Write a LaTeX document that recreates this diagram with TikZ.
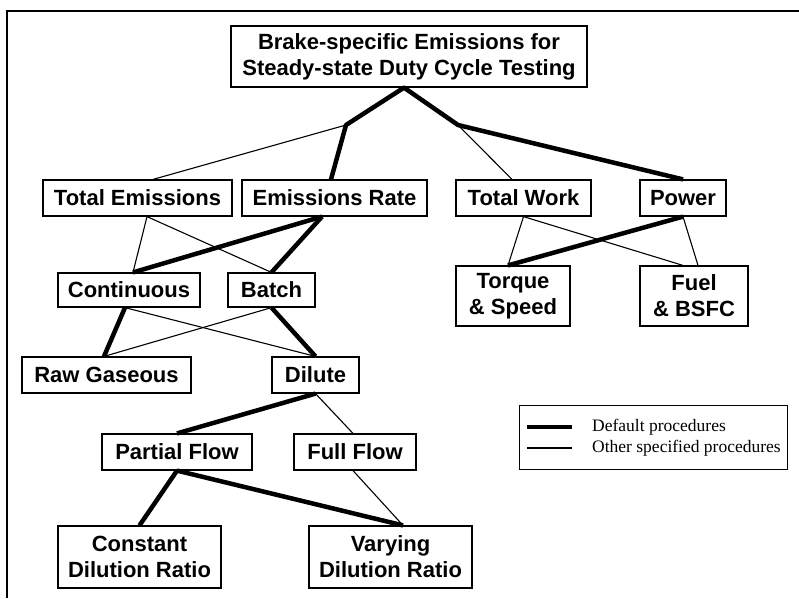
\documentclass[tikz,border=0pt]{standalone}
\usepackage{fontspec}
\setmainfont{Liberation Sans}
\newfontfamily\legendfont{Liberation Serif}
\usepackage{tikz}
\usetikzlibrary{positioning}
\tikzstyle{box}=[rectangle, draw, line width=1.2pt, align=center, inner sep=0pt, font=\bfseries\fontsize{22}{26}\selectfont]
\tikzstyle{dflt}=[line width=4.5pt, line join=round]
\tikzstyle{other}=[line width=1.1pt]
\tikzstyle{legendtext}=[font=\legendfont\fontsize{17.5}{20}\selectfont, inner sep=0pt]

\begin{document}
\begin{tikzpicture}[x=1pt, y=-1pt]
  \useasboundingbox (0,0) rectangle (799,598);
  \draw [line width=2pt] (7,598) -- (7,11) -- (799,11);

  % levels
  \node [box, minimum width=356pt, minimum height=61pt] (title) at (409,56.5)
        {Brake-specific Emissions for\\Steady-state Duty Cycle Testing};
  \node [box, minimum width=189pt, minimum height=36pt] (totem) at (137.5,198) {Total Emissions};
  \node [box, minimum width=185pt, minimum height=36pt] (emrate) at (334.5,198) {Emissions Rate};
  \node [box, minimum width=135pt, minimum height=36pt] (totwork) at (523.5,198) {Total Work};
  \node [box, minimum width=86pt, minimum height=36pt] (power) at (683,198) {Power};
  \node [box, minimum width=142pt, minimum height=34pt] (cont) at (129,290) {Continuous};
  \node [box, minimum width=87pt, minimum height=34pt] (batch) at (271.5,290) {Batch};
  \node [box, minimum width=114pt, minimum height=60pt] (torque) at (513,296) {Torque\\\& Speed};
  \node [box, minimum width=108pt, minimum height=60pt] (fuel) at (694,296) {Fuel\\\& BSFC};
  \node [box, minimum width=169pt, minimum height=36pt] (raw) at (106.5,375) {Raw Gaseous};
  \node [box, minimum width=87pt, minimum height=36pt] (dilute) at (315.5,375) {Dilute};
  \node [box, minimum width=150pt, minimum height=36pt] (partial) at (177,452) {Partial Flow};
  \node [box, minimum width=122pt, minimum height=36pt] (full) at (355,452) {Full Flow};
  \node [box, minimum width=163pt, minimum height=62pt] (const) at (139.5,557) {Constant\\Dilution Ratio};
  \node [box, minimum width=163pt, minimum height=62pt] (vary) at (390.5,557) {Varying\\Dilution Ratio};

  \coordinate (jl) at (346,125);
  \coordinate (jr) at (458,125);

  % top split
  \draw [other] (jl) -- ([xshift=15.5pt]totem.north);
  \draw [other] (jr) -- ([xshift=-11.5pt]totwork.north);
  \draw [dflt] ([xshift=-3.5pt]emrate.north) -- (jl) -- ([xshift=-5pt]title.south) -- (jr) -- (power.north);

  % emissions
  \draw [other] ([xshift=9.5pt]totem.south) -- ([xshift=4pt]cont.north);
  \draw [other] ([xshift=9.5pt]totem.south) -- (batch.north);
  \draw [dflt] ([xshift=-12.5pt]emrate.south) -- ([xshift=4pt]cont.north);
  \draw [dflt] ([xshift=-12.5pt]emrate.south) -- (batch.north);

  \draw [dflt] ([xshift=-4pt]cont.south) -- ([xshift=-2.5pt]raw.north);
  \draw [other] ([xshift=-4pt]cont.south) -- (dilute.north);
  \draw [other] (batch.south) -- ([xshift=-2.5pt]raw.north);
  \draw [dflt] (batch.south) -- (dilute.north);

  \draw [dflt] (dilute.south) -- (partial.north);
  \draw [other] (dilute.south) -- ([xshift=-2pt]full.north);
  \draw [dflt] (partial.south) -- (const.north);
  \draw [dflt] (partial.south) -- ([xshift=12.5pt]vary.north);
  \draw [other] ([xshift=-2pt]full.south) -- ([xshift=12.5pt]vary.north);

  % work
  \draw [other] (totwork.south) -- ([xshift=-5pt]torque.north);
  \draw [other] (totwork.south) -- ([xshift=-11pt]fuel.north);
  \draw [dflt] (power.south) -- ([xshift=-5pt]torque.north);
  \draw [other] (power.south) -- ([xshift=4pt]fuel.north);

  % legend
  \node [draw, line width=1pt, minimum width=268pt, minimum height=64pt] (legend) at (653,437) {};
  \coordinate (d1) at (527,427);
  \coordinate (d2) at (572,427);
  \coordinate (o1) at (527,448);
  \coordinate (o2) at (572,448);
  \draw [line width=4.5pt] (d1) -- (d2);
  \draw [other] (o1) -- (o2);
  \node [legendtext, right=20pt of d2] (dlabel) {Default procedures};
  \node [legendtext, right=20pt of o2] (olabel) {Other specified procedures};
\end{tikzpicture}
\end{document}
